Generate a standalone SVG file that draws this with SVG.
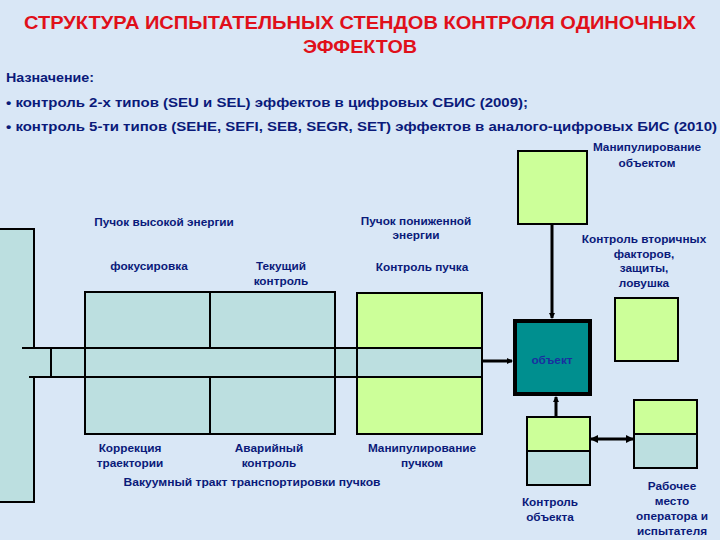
<svg xmlns="http://www.w3.org/2000/svg" width="720" height="540" viewBox="0 0 720 540">
<defs>
<style>
.bg{fill:#d9e7f6}
.teal{fill:#bcdfe0;stroke:#000;stroke-width:2}
.green{fill:#ccff99;stroke:#000;stroke-width:2}
.ln{stroke:#000;stroke-width:2;fill:none}
.lbl{font-family:"Liberation Sans",Arial,sans-serif;font-weight:bold;font-size:11.8px;fill:#0a1a7a;text-anchor:middle}
.hdr{font-family:"Liberation Sans",Arial,sans-serif;font-weight:bold;font-size:12.5px;fill:#0a1a7a}
.ttl{font-family:"Liberation Sans",Arial,sans-serif;font-weight:bold;font-size:17.5px;fill:#e0101a;text-anchor:middle}
.conn{stroke:#000;stroke-width:3;fill:none}
</style>
<marker id="ah" markerWidth="6" markerHeight="6" refX="5" refY="3" orient="auto" markerUnits="userSpaceOnUse" viewBox="0 0 6 6">
<path d="M0,0 L6,3 L0,6 z" fill="#000"/>
</marker>
<marker id="ahs" markerWidth="8" markerHeight="8" refX="1" refY="4" orient="auto" markerUnits="userSpaceOnUse" viewBox="0 0 8 8">
<path d="M8,0 L0,4 L8,8 z" fill="#000"/>
</marker>
<marker id="ahe" markerWidth="8" markerHeight="8" refX="7" refY="4" orient="auto" markerUnits="userSpaceOnUse" viewBox="0 0 8 8">
<path d="M0,0 L8,4 L0,8 z" fill="#000"/>
</marker>
</defs>
<rect class="bg" x="0" y="0" width="720" height="540"/>

<g id="title">
<text class="ttl" x="360" y="29" textLength="672" lengthAdjust="spacingAndGlyphs">СТРУКТУРА ИСПЫТАТЕЛЬНЫХ СТЕНДОВ КОНТРОЛЯ ОДИНОЧНЫХ</text>
<text class="ttl" x="360" y="53" textLength="114" lengthAdjust="spacingAndGlyphs">ЭФФЕКТОВ</text>
</g>
<g id="purpose">
<text class="hdr" x="6" y="82" textLength="88" lengthAdjust="spacingAndGlyphs">Назначение:</text>
<text class="hdr" x="6" y="107" textLength="522" lengthAdjust="spacingAndGlyphs">• контроль 2-х типов (SEU и SEL) эффектов в цифровых СБИС (2009);</text>
<text class="hdr" x="6" y="131" textLength="711" lengthAdjust="spacingAndGlyphs">• контроль 5-ти типов (SEHE, SEFI, SEB, SEGR, SET) эффектов в аналого-цифровых БИС (2010)</text>
</g>

<g id="source">
<rect class="teal" x="-2" y="229" width="36" height="273"/>
</g>
<g id="focusing">
<rect class="teal" x="85" y="292" width="125" height="142"/>
</g>
<g id="current-control">
<rect class="teal" x="210" y="292" width="125" height="142"/>
</g>
<g id="beam-control">
<rect class="green" x="357" y="293" width="125" height="141"/>
</g>
<g id="vacuum-tract">
<rect x="22" y="348" width="460" height="29" fill="#bcdfe0"/>
<line class="ln" x1="22" y1="348" x2="482" y2="348"/>
<line class="ln" x1="29" y1="377" x2="482" y2="377"/>
<line class="ln" x1="51" y1="348" x2="51" y2="377"/>
<line class="ln" x1="85" y1="348" x2="85" y2="377"/>
<line class="ln" x1="335" y1="348" x2="335" y2="377"/>
<line class="ln" x1="357" y1="348" x2="357" y2="377"/>
<line class="ln" x1="482" y1="348" x2="482" y2="377"/>
</g>
<g id="object-manip">
<rect class="green" x="518" y="151" width="69" height="73"/>
</g>
<g id="secondary">
<rect class="green" x="615" y="298" width="63" height="63"/>
</g>
<g id="object">
<rect x="515" y="321" width="75" height="73" fill="#008f8f" stroke="#000" stroke-width="4"/>
<text class="lbl" x="552" y="364" style="fill:#1a2fa0">объект</text>
</g>
<g id="object-control">
<rect class="green" x="527" y="417" width="63" height="34"/>
<rect class="teal" x="527" y="451" width="63" height="34"/>
</g>
<g id="workstation">
<rect class="green" x="634" y="400" width="63" height="34"/>
<rect class="teal" x="634" y="434" width="63" height="34"/>
</g>

<g id="connectors">
<line class="conn" x1="483" y1="361" x2="512" y2="361" marker-end="url(#ah)"/>
<line class="conn" x1="552" y1="225" x2="552" y2="318" marker-end="url(#ah)"/>
<line class="conn" x1="556" y1="416" x2="556" y2="397" marker-end="url(#ah)"/>
<line class="conn" x1="591" y1="439" x2="633" y2="439" marker-start="url(#ahs)" marker-end="url(#ahe)"/>
</g>

<g id="labels">
<text class="lbl" x="164" y="226">Пучок высокой энергии</text>
<text class="lbl" x="149" y="270">фокусировка</text>
<text class="lbl" x="281" y="270">Текущий</text>
<text class="lbl" x="281" y="285">контроль</text>
<text class="lbl" x="416" y="225">Пучок пониженной</text>
<text class="lbl" x="416" y="239">энергии</text>
<text class="lbl" x="422" y="271">Контроль пучка</text>
<text class="lbl" x="647" y="151">Манипулирование</text>
<text class="lbl" x="647" y="167">объектом</text>
<text class="lbl" x="644" y="243">Контроль вторичных</text>
<text class="lbl" x="644" y="258">факторов,</text>
<text class="lbl" x="644" y="272">защиты,</text>
<text class="lbl" x="644" y="287">ловушка</text>
<text class="lbl" x="130" y="452">Коррекция</text>
<text class="lbl" x="130" y="467">траектории</text>
<text class="lbl" x="269" y="452">Аварийный</text>
<text class="lbl" x="269" y="467">контроль</text>
<text class="lbl" x="252" y="486" textLength="257" lengthAdjust="spacingAndGlyphs">Вакуумный тракт транспортировки пучков</text>
<text class="lbl" x="422" y="452">Манипулирование</text>
<text class="lbl" x="422" y="467">пучком</text>
<text class="lbl" x="550" y="506">Контроль</text>
<text class="lbl" x="550" y="521">объекта</text>
<text class="lbl" x="672" y="490">Рабочее</text>
<text class="lbl" x="672" y="505">место</text>
<text class="lbl" x="672" y="520">оператора и</text>
<text class="lbl" x="672" y="535">испытателя</text>
</g>
</svg>
